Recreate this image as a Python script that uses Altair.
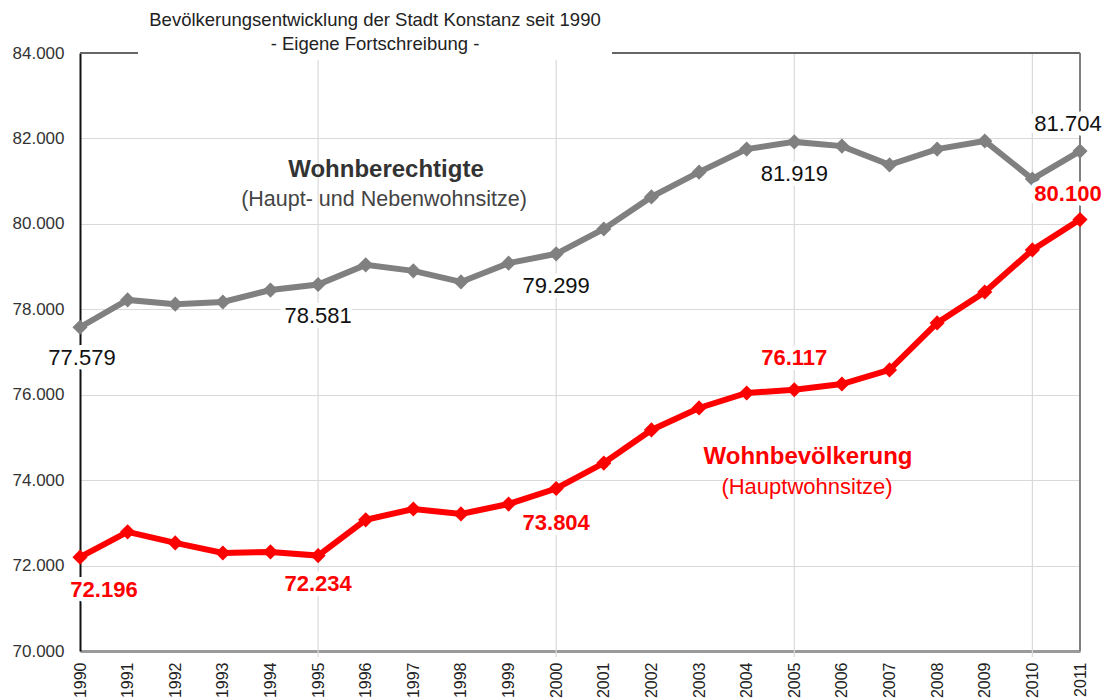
import altair as alt
import pandas as pd

years = list(range(1990, 2012))
wohnberechtigte = [77579, 78220, 78120, 78170, 78450, 78581, 79040, 78900, 78640, 79080, 79299,
                   79880, 80630, 81210, 81750, 81919, 81820, 81380, 81750, 81940, 81050, 81704]
wohnbevoelkerung = [72196, 72790, 72530, 72295, 72320, 72234, 73070, 73325, 73210, 73440, 73804,
                    74400, 75175, 75690, 76040, 76117, 76250, 76580, 77680, 78405, 79390, 80100]
series_names = ["Wohnberechtigte", "Wohnbevölkerung"]
series_colors = ["#808080", "#ff0000"]
grid_years = [1995, 2000, 2005, 2010]
y_ticks = list(range(70000, 84001, 2000))
title_lines = ["Bevölkerungsentwicklung der Stadt Konstanz  seit 1990", "- Eigene Fortschreibung -"]

W, H = 1000, 598
FONT = "Liberation Sans"

rows = []
for i, y in enumerate(years):
    rows.append({"year": y, "series": series_names[0], "value": wohnberechtigte[i]})
    rows.append({"year": y, "series": series_names[1], "value": wohnbevoelkerung[i]})
df = pd.DataFrame(rows)
df["label"] = df["value"].map(lambda v: f"{v:,}".replace(",", "."))

xs = alt.Scale(domain=[1990, 2011], nice=False, zero=False)
ys = alt.Scale(domain=[70000, 84000], nice=False, zero=False)
color = alt.Color("series:N", scale=alt.Scale(domain=series_names, range=series_colors), legend=None)

base = alt.Chart(df)

x_enc = alt.X("year:Q", scale=xs, axis=alt.Axis(
    values=years, format="d", labelAngle=270, labelFontSize=16, labelColor="#222222",
    labelFont=FONT, grid=False, ticks=False, domainColor="#9a9a9a",
    domainWidth=3, labelPadding=11, title=None))
y_enc = alt.Y("value:Q", scale=ys, axis=alt.Axis(
    values=y_ticks, labelExpr="replace(format(datum.value, ','), ',', '.')",
    labelFontSize=17, labelColor="#333333", labelFont=FONT,
    grid=True, gridColor="#d9d9d9", gridWidth=1.2, ticks=False,
    domainColor="#111111", domainWidth=2, labelPadding=16, title=None))

vgrid = alt.Chart(pd.DataFrame({"year": grid_years})).mark_rule(
    color="#d9d9d9", strokeWidth=1.2).encode(
    x=alt.X("year:Q", scale=xs), y=alt.value(0), y2=alt.value(H + 6))

one = pd.DataFrame({"a": [0]})
top_border = alt.Chart(one).mark_rule(color="#666666", strokeWidth=2).encode(
    x=alt.value(0), x2=alt.value(W), y=alt.value(0))
right_border = alt.Chart(one).mark_rule(color="#808080", strokeWidth=2).encode(
    x=alt.value(W), y=alt.value(0), y2=alt.value(H))
title_box = alt.Chart(one).mark_rect(color="white").encode(
    x=alt.value(58), x2=alt.value(532), y=alt.value(-52), y2=alt.value(7))

lines = base.mark_line(strokeWidth=6).encode(x=x_enc, y=y_enc, color=color)
points = base.mark_point(shape="diamond", filled=True, size=230, opacity=1).encode(
    x=alt.X("year:Q", scale=xs), y=alt.Y("value:Q", scale=ys), color=color)


def label_layer(series, yrs, dy, dx, col, bold):
    layers = []
    test = f"datum.series === '{series}' && indexof({yrs}, datum.year) >= 0"
    for halo in (True, False):
        kw = dict(dy=dy, dx=dx, fontSize=22, font=FONT, baseline="middle", align="center",
                  fontWeight="bold" if bold else "normal")
        if halo:
            kw.update(stroke="white", strokeWidth=10, strokeJoin="round", color="white")
        else:
            kw.update(color=col)
        layers.append(base.transform_filter(test).mark_text(**kw).encode(
            x=alt.X("year:Q", scale=xs), y=alt.Y("value:Q", scale=ys), text="label:N"))
    return layers


labels = []
labels += label_layer(series_names[0], [1990], 31, 2, "#111111", False)
labels += label_layer(series_names[0], [1995, 2000, 2005], 32, 0, "#111111", False)
labels += label_layer(series_names[0], [2011], -27, -12, "#111111", False)
labels += label_layer(series_names[1], [1990], 33, 24, "#ff0000", True)
labels += label_layer(series_names[1], [1995], 28, 0, "#ff0000", True)
labels += label_layer(series_names[1], [2000], 34, 0, "#ff0000", True)
labels += label_layer(series_names[1], [2005], -32, 0, "#ff0000", True)
labels += label_layer(series_names[1], [2011], -26, -12, "#ff0000", True)

ann = [
    alt.Chart(one).mark_text(text="Wohnberechtigte", fontSize=24, fontWeight="bold", color="#333333",
                             font=FONT, align="center", baseline="middle").encode(
        x=alt.value(306), y=alt.value(117)),
    alt.Chart(one).mark_text(text="(Haupt- und Nebenwohnsitze)", fontSize=21.5, color="#444444",
                             font=FONT, align="center", baseline="middle").encode(
        x=alt.value(304), y=alt.value(147)),
    alt.Chart(one).mark_text(text="Wohnbevölkerung", fontSize=24, fontWeight="bold", color="#ff0000",
                             font=FONT, align="center", baseline="middle").encode(
        x=alt.value(728), y=alt.value(404)),
    alt.Chart(one).mark_text(text="(Hauptwohnsitze)", fontSize=22, color="#ff0000",
                             font=FONT, align="center", baseline="middle").encode(
        x=alt.value(727), y=alt.value(434)),
    alt.Chart(one).mark_text(text=title_lines[0], fontSize=18.5, color="#222222",
                             font=FONT, align="center", baseline="middle").encode(
        x=alt.value(295), y=alt.value(-33)),
    alt.Chart(one).mark_text(text=title_lines[1], fontSize=18.5, color="#222222",
                             font=FONT, align="center", baseline="middle").encode(
        x=alt.value(295), y=alt.value(-9)),
]

chart = alt.layer(vgrid, top_border, right_border, title_box, lines, points, *labels, *ann).properties(
    width=W, height=H,
    autosize=alt.AutoSizeParams(type="none"),
    padding={"left": 72, "top": 45, "right": 23, "bottom": 48},
).configure_view(strokeWidth=0).configure(background="white")

chart.save("out.html", embed_options={"renderer": "svg", "actions": False})
